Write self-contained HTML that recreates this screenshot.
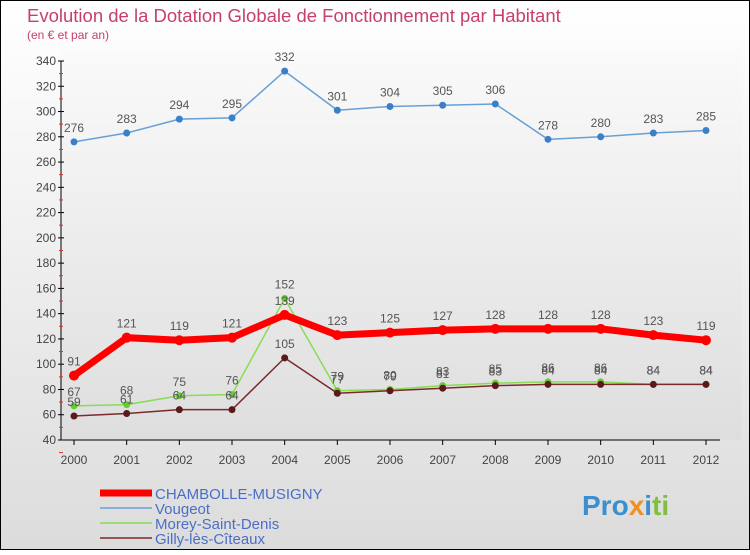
<!DOCTYPE html>
<html><head><meta charset="utf-8"><style>
body{margin:0;width:750px;height:550px;overflow:hidden;font-family:"Liberation Sans",sans-serif}
</style></head><body>
<svg width="750" height="550" xmlns="http://www.w3.org/2000/svg" font-family="Liberation Sans, sans-serif">
<defs>
<linearGradient id="bg" x1="0" y1="0" x2="0" y2="1"><stop offset="0" stop-color="#ffffff"/><stop offset="1" stop-color="#dcdcdc"/></linearGradient>
<linearGradient id="pl" x1="0" y1="0" x2="0" y2="1"><stop offset="0" stop-color="#fafafa"/><stop offset="1" stop-color="#dedede"/></linearGradient>
</defs>
<rect x="0.5" y="0.5" width="749" height="549" fill="url(#bg)" stroke="#000"/>
<rect x="61" y="50" width="680" height="390" fill="url(#pl)"/>
<text x="27" y="22" font-size="18.5" fill="#c8406a">Evolution de la Dotation Globale de Fonctionnement par Habitant</text>
<text x="27" y="39" font-size="12" fill="#c8406a">(en € et par an)</text>
<g id="axes"></g>
<g id="series"></g>
<g font-size="15">
<line x1="100" y1="493" x2="152" y2="493" stroke="#ff0000" stroke-width="7"/>
<text x="155" y="499" fill="#4a6ec8">CHAMBOLLE-MUSIGNY</text>
<line x1="100" y1="508" x2="152" y2="508" stroke="#6a9fd6" stroke-width="1.5"/>
<text x="155" y="514" fill="#4a6ec8">Vougeot</text>
<line x1="100" y1="523" x2="152" y2="523" stroke="#88dd55" stroke-width="1.5"/>
<text x="155" y="529" fill="#4a6ec8">Morey-Saint-Denis</text>
<line x1="100" y1="538" x2="152" y2="538" stroke="#7a2a2a" stroke-width="1.5"/>
<text x="155" y="544" fill="#4a6ec8">Gilly-lès-Cîteaux</text>
</g>
<text x="582" y="515" font-size="28" font-weight="bold"><tspan fill="#3a8fd0">Pro</tspan><tspan fill="#f09020">x</tspan><tspan fill="#3a8fd0">i</tspan><tspan fill="#80c040">ti</tspan></text>
</svg>
<script>
const years=["2000","2001","2002","2003","2004","2005","2006","2007","2008","2009","2010","2011","2012"];
const yTicks=[40,60,80,100,120,140,160,180,200,220,240,260,280,300,320,340];
const chambolle=[91,121,119,121,139,123,125,127,128,128,128,123,119];
const vougeot=[276,283,294,295,332,301,304,305,306,278,280,283,285];
const morey=[67,68,75,76,152,79,80,83,85,86,86,84,84];
const gilly=[59,61,64,64,105,77,79,81,83,84,84,84,84];
const NS="http://www.w3.org/2000/svg";
const X=i=>74+i*(632/12);
const Y=v=>440-(v-40)*(379/300);
function mk(t,a,p){const e=document.createElementNS(NS,t);for(const k in a)e.setAttribute(k,a[k]);p.appendChild(e);return e;}
const ax=document.getElementById('axes');
const yl=mk('line',{x1:61,y1:61,x2:61,y2:440,stroke:'#000'},ax);

const xl=mk('line',{x1:61,y1:440,x2:720,y2:440,stroke:'#000'},ax);

yTicks.forEach(v=>{const y=Y(v);
mk('line',{x1:58,y1:y,x2:64,y2:y,stroke:'#000'},ax);
mk('line',{x1:59,y1:y+12.6,x2:63,y2:y+12.6,stroke:'#e03030'},ax);
const t=mk('text',{x:56,y:y+4,'text-anchor':'end','font-size':12,fill:'#444'},ax);t.textContent=v;
});
years.forEach((yr,i)=>{const x=X(i);mk('line',{x1:x,y1:440,x2:x,y2:445,stroke:'#000'},ax);
const t=mk('text',{x:x,y:464,'text-anchor':'middle','font-size':12,fill:'#444'},ax);t.textContent=yr;
});
const sg=document.getElementById('series');
function series(name,d,col,w,r,dot){
const g=mk('g',{},sg);
const p=mk('polyline',{points:d.map((v,i)=>X(i)+','+Y(v)).join(' '),fill:'none',stroke:col,'stroke-width':w,'stroke-linejoin':'round'},g);

d.forEach((v,i)=>{const c=mk('circle',{cx:X(i),cy:Y(v),r:r,fill:dot},g);

const t=mk('text',{x:X(i),y:Y(v)-10,'text-anchor':'middle','font-size':12,fill:'#555'},g);t.textContent=v;
});}
series('vougeot',vougeot,'#6a9fd6',1.5,3.5,'#3a80c8');
series('morey',morey,'#88dd55',1.5,3.5,'#66cc33');
series('gilly',gilly,'#7a2a2a',1.5,3.5,'#5a1a1a');
series('chambolle',chambolle,'#ff0000',7,5,'#ff0000');
</script>
</body></html>
